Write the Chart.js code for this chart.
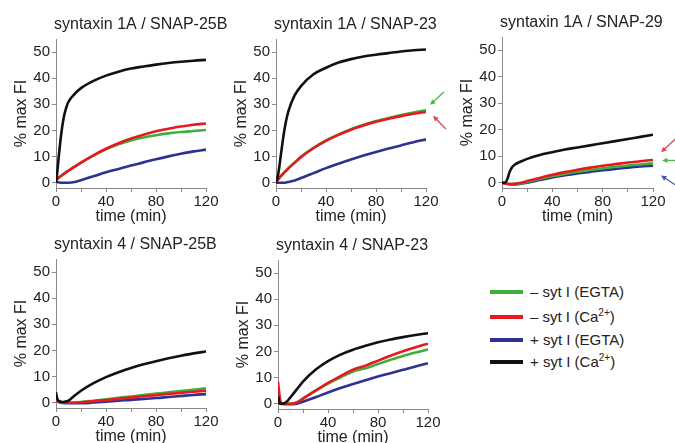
<!DOCTYPE html>
<html>
<head>
<meta charset="utf-8">
<script src="https://cdn.jsdelivr.net/npm/chart.js@4.4.1/dist/chart.umd.min.js"></script>
<style>
  body { margin: 0; background: #fff; width: 675px; height: 443px; overflow: hidden; position: relative;
         font-family: "Liberation Sans", Arial, sans-serif; color: #222; }
  canvas { position: absolute; }
  .leg { position: absolute; left: 490px; font-size: 15px; line-height: 18px; white-space: nowrap; }
  .leg i { position: absolute; left: 0; top: 7px; width: 33px; height: 4px; }
  .leg span { position: absolute; left: 40px; top: 0; }
  .leg sup { font-size: 10px; line-height: 0; vertical-align: 6px; }
</style>
</head>
<body>

<div class="leg" style="top:283px"><i style="background:#3fae3a"></i><span>&ndash; syt I (EGTA)</span></div>
<div class="leg" style="top:308px"><i style="background:#e8191e"></i><span>&ndash; syt I (Ca<sup>2+</sup>)</span></div>
<div class="leg" style="top:331px"><i style="background:#2e3192"></i><span>+ syt I (EGTA)</span></div>
<div class="leg" style="top:353px"><i style="background:#111"></i><span>+ syt I (Ca<sup>2+</sup>)</span></div>

<script>
// sample times (min), shared by every trace
const TIME = [0, 1, 2, 4, 6, 8, 10, 15, 20, 30, 40, 50, 60, 70, 80, 90, 100, 110, 120];

const xTicks = [0, 20, 40, 60, 80, 100, 120];
const xLabelled = [0, 40, 80, 120];
const yTicks = [0, 10, 20, 30, 40, 50];

const seriesNames = ['+ syt I (Ca2+)', '– syt I (Ca2+)', '– syt I (EGTA)', '+ syt I (EGTA)'];
const seriesColors = ['#111111', '#e8191e', '#3fae3a', '#2e3192'];

const panelTitles = [
  'syntaxin 1A / SNAP-25B',
  'syntaxin 1A / SNAP-23',
  'syntaxin 1A / SNAP-29',
  'syntaxin 4 / SNAP-25B',
  'syntaxin 4 / SNAP-23'
];

// % max FI, one array per trace, order: black, red, green, blue
const p1Black = [0, 4, 9, 18, 24.5, 28.5, 31, 34, 36.2, 39, 41, 42.5, 43.7, 44.5, 45.2, 45.8, 46.3, 46.7, 47];
const p1Red   = [1, 1.4, 1.8, 2.6, 3.3, 4, 4.6, 6.2, 7.7, 10.5, 13, 15.1, 16.9, 18.4, 19.7, 20.7, 21.5, 22.2, 22.7];
const p1Green = [1, 1.4, 1.8, 2.6, 3.3, 4, 4.6, 6.2, 7.7, 10.5, 12.8, 14.7, 16.2, 17.3, 18.2, 18.9, 19.4, 19.8, 20.2];
const p1Blue  = [0.5, 0.3, 0.2, 0, 0, 0, 0, 0.3, 1, 2.5, 4, 5.3, 6.6, 7.8, 9, 10.1, 11.1, 12, 12.7];

const p2Black = [0, 1.5, 4, 11, 18, 23.5, 27.5, 33.5, 37, 41.5, 44, 46, 47.3, 48.3, 49, 49.6, 50.2, 50.7, 51];
const p2Red   = [0.3, 0.9, 1.5, 2.6, 3.6, 4.6, 5.5, 7.7, 9.8, 13.2, 16, 18.3, 20.3, 21.9, 23.3, 24.5, 25.5, 26.4, 27.1];
const p2Green = [0.3, 0.9, 1.5, 2.6, 3.6, 4.6, 5.6, 7.8, 10, 13.4, 16.2, 18.5, 20.5, 22.2, 23.6, 24.8, 25.9, 26.9, 27.7];
const p2Blue  = [0, 0, 0, 0, 0, 0.1, 0.3, 0.9, 1.8, 3.7, 5.6, 7.3, 8.9, 10.4, 11.8, 13.1, 14.3, 15.5, 16.6];

const p3Black = [0, 0, 0, 1, 4, 5.8, 6.8, 8, 9, 10.5, 11.5, 12.5, 13.3, 14.1, 14.9, 15.7, 16.5, 17.3, 18.1];
const p3Red   = [0, -0.1, -0.2, -0.4, -0.5, -0.5, -0.4, 0, 0.6, 1.8, 3, 4, 4.9, 5.7, 6.4, 7, 7.6, 8.1, 8.6];
const p3Green = [0, -0.1, -0.2, -0.4, -0.5, -0.5, -0.5, -0.2, 0.3, 1.4, 2.4, 3.3, 4.1, 4.8, 5.4, 6, 6.5, 6.9, 7.3];
const p3Blue  = [0, -0.1, -0.2, -0.4, -0.6, -0.7, -0.7, -0.4, 0, 1, 2, 2.8, 3.5, 4.1, 4.7, 5.2, 5.7, 6.1, 6.4];

const p4Black = [4, 1.5, 0.8, 0.4, 0.3, 0.5, 0.8, 2.8, 4.6, 7.5, 9.8, 11.7, 13.3, 14.7, 15.9, 17, 18, 18.9, 19.6];
const p4Red   = [3, 1, 0.5, 0.2, 0, 0, 0, 0, 0.2, 0.6, 1, 1.5, 2, 2.5, 2.9, 3.4, 3.8, 4.2, 4.6];
const p4Green = [3, 1, 0.5, 0.2, 0.1, 0, 0, 0.1, 0.3, 0.8, 1.3, 1.9, 2.4, 3, 3.5, 4, 4.5, 5, 5.5];
const p4Blue  = [2.5, 0.8, 0.3, 0, -0.1, -0.2, -0.2, -0.2, -0.2, 0.1, 0.4, 0.8, 1.1, 1.5, 1.8, 2.2, 2.6, 3, 3.3];

const p5Black = [3, 0.5, 0, 0, 0.5, 1.3, 2.5, 5.5, 8.5, 13, 16.3, 18.8, 20.7, 22.2, 23.5, 24.6, 25.5, 26.3, 27];
const p5Red   = [8.5, 4, 1, 0, 0, 0, 0, 0.5, 2, 5, 8, 10.6, 13, 14.6, 16.5, 18.4, 20.1, 21.6, 23];
const p5Green = [2, 1, 0.5, 0, 0, 0, 0, 0.5, 2, 5, 7.7, 10.1, 12.3, 13.6, 15.2, 16.8, 18.3, 19.6, 20.8];
const p5Blue  = [1, 0.3, 0, -0.1, -0.2, -0.2, -0.2, 0, 0.8, 2.5, 4.3, 6, 7.6, 9, 10.4, 11.7, 13, 14.3, 15.5];

// arrow annotations next to trace ends, in data units (min, % max FI)
const p2Arrows = [
  { color: '#4cb848', from: [134.3, 34.7], to: [123.2, 29.8] },
  { color: '#e8474c', from: [135.9, 20.6], to: [125.6, 25.6] }
];
const p3Arrows = [
  { color: '#e8474c', from: [137.5, 16.4], to: [126.4, 11.5] },
  { color: '#4cb848', from: [137.5, 8.4],  to: [127.2, 8.4] },
  { color: '#4a56b0', from: [137.5, -0.8], to: [126.4, 2.7] }
];

const panelData = [
  [p1Black, p1Red, p1Green, p1Blue],
  [p2Black, p2Red, p2Green, p2Blue],
  [p3Black, p3Red, p3Green, p3Blue],
  [p4Black, p4Red, p4Green, p4Blue],
  [p5Black, p5Red, p5Green, p5Blue]
];
const panelArrows = [[], p2Arrows, p3Arrows, [], []];

// where each plot box sits on the page: x0/x1 = time 0/120, yTop/yBottom = 55/-2
const panelBoxes = [
  { x0: 56, x1: 206, yTop: 39, yBottom: 188 },
  { x0: 276, x1: 426, yTop: 39, yBottom: 188 },
  { x0: 502, x1: 653, yTop: 37, yBottom: 188 },
  { x0: 56, x1: 206, yTop: 259, yBottom: 408 },
  { x0: 278, x1: 428, yTop: 260, yBottom: 409 }
];

const PAD_TOP = 40, PAD_RIGHT = 30, Y_AXIS_W = 56, X_AXIS_H = 40;
const FONT = '"Liberation Sans", Arial, sans-serif';

const panelDeco = {
  id: 'panelDeco',
  afterDraw(chart, args, opts) {
    const ctx = chart.ctx;
    const area = chart.chartArea;
    const xs = chart.scales.x, ys = chart.scales.y;
    ctx.save();
    ctx.fillStyle = '#222';
    ctx.font = '16px ' + FONT;
    ctx.textAlign = 'left';
    ctx.textBaseline = 'middle';
    ctx.fillText(opts.title, area.left - 2, area.top - 14);

    for (const a of opts.arrows || []) {
      const fx = xs.getPixelForValue(a.from[0]), fy = ys.getPixelForValue(a.from[1]);
      const tx = xs.getPixelForValue(a.to[0]), ty = ys.getPixelForValue(a.to[1]);
      const ang = Math.atan2(ty - fy, tx - fx);
      ctx.strokeStyle = a.color;
      ctx.fillStyle = a.color;
      ctx.lineWidth = 1.3;
      ctx.beginPath();
      ctx.moveTo(fx, fy);
      ctx.lineTo(tx - 3 * Math.cos(ang), ty - 3 * Math.sin(ang));
      ctx.stroke();
      ctx.beginPath();
      ctx.moveTo(tx, ty);
      ctx.lineTo(tx - 6 * Math.cos(ang - 0.45), ty - 6 * Math.sin(ang - 0.45));
      ctx.lineTo(tx - 6 * Math.cos(ang + 0.45), ty - 6 * Math.sin(ang + 0.45));
      ctx.closePath();
      ctx.fill();
    }
    ctx.restore();
  }
};

function makePanel(i) {
  const box = panelBoxes[i];
  const cv = document.createElement('canvas');
  const w = box.x1 - box.x0 + Y_AXIS_W + PAD_RIGHT;
  const h = box.yBottom - box.yTop + PAD_TOP + X_AXIS_H;
  cv.width = w; cv.height = h;
  cv.style.left = (box.x0 - Y_AXIS_W) + 'px';
  cv.style.top = (box.yTop - PAD_TOP) + 'px';
  cv.style.width = w + 'px'; cv.style.height = h + 'px';
  document.body.appendChild(cv);

  const datasets = panelData[i].map((vals, k) => ({
    label: seriesNames[k],
    data: TIME.map((t, j) => ({ x: t, y: vals[j] })),
    borderColor: seriesColors[k],
    borderWidth: 2.6,
    pointRadius: 0,
    cubicInterpolationMode: 'monotone',
    fill: false
  }));

  const axisGrid = { display: true, drawOnChartArea: false, drawTicks: true, tickLength: 4, color: '#8a8a8a', lineWidth: 1 };
  const axisBorder = { display: true, color: '#8a8a8a', width: 1 };

  new Chart(cv, {
    type: 'line',
    data: { datasets },
    options: {
      responsive: false,
      animation: false,
      devicePixelRatio: 1,
      layout: { padding: { top: PAD_TOP, right: PAD_RIGHT, left: 0, bottom: 0 } },
      plugins: {
        legend: { display: false },
        tooltip: { enabled: false },
        panelDeco: { title: panelTitles[i], arrows: panelArrows[i] }
      },
      scales: {
        x: {
          type: 'linear', min: 0, max: 120,
          afterBuildTicks: s => { s.ticks = xTicks.map(v => ({ value: v })); },
          afterFit: s => { s.height = X_AXIS_H; },
          ticks: {
            autoSkip: false, maxRotation: 0, padding: 1, color: '#222',
            font: { family: FONT, size: 15 },
            callback: v => (xLabelled.includes(v) ? String(v) : '')
          },
          grid: axisGrid,
          border: axisBorder,
          title: { display: true, text: 'time (min)', color: '#222', font: { family: FONT, size: 16 }, padding: { top: 0, bottom: 2 } }
        },
        y: {
          type: 'linear', min: -2, max: 55,
          afterBuildTicks: s => { s.ticks = yTicks.map(v => ({ value: v })); },
          afterFit: s => { s.width = Y_AXIS_W; },
          ticks: { padding: 2, color: '#222', font: { family: FONT, size: 15 } },
          grid: axisGrid,
          border: axisBorder,
          title: { display: true, text: '% max FI', color: '#222', font: { family: FONT, size: 16 }, padding: { top: 12, bottom: 0 } }
        }
      }
    },
    plugins: [panelDeco]
  });
}

for (let i = 0; i < panelBoxes.length; i++) makePanel(i);
</script>
</body>
</html>
